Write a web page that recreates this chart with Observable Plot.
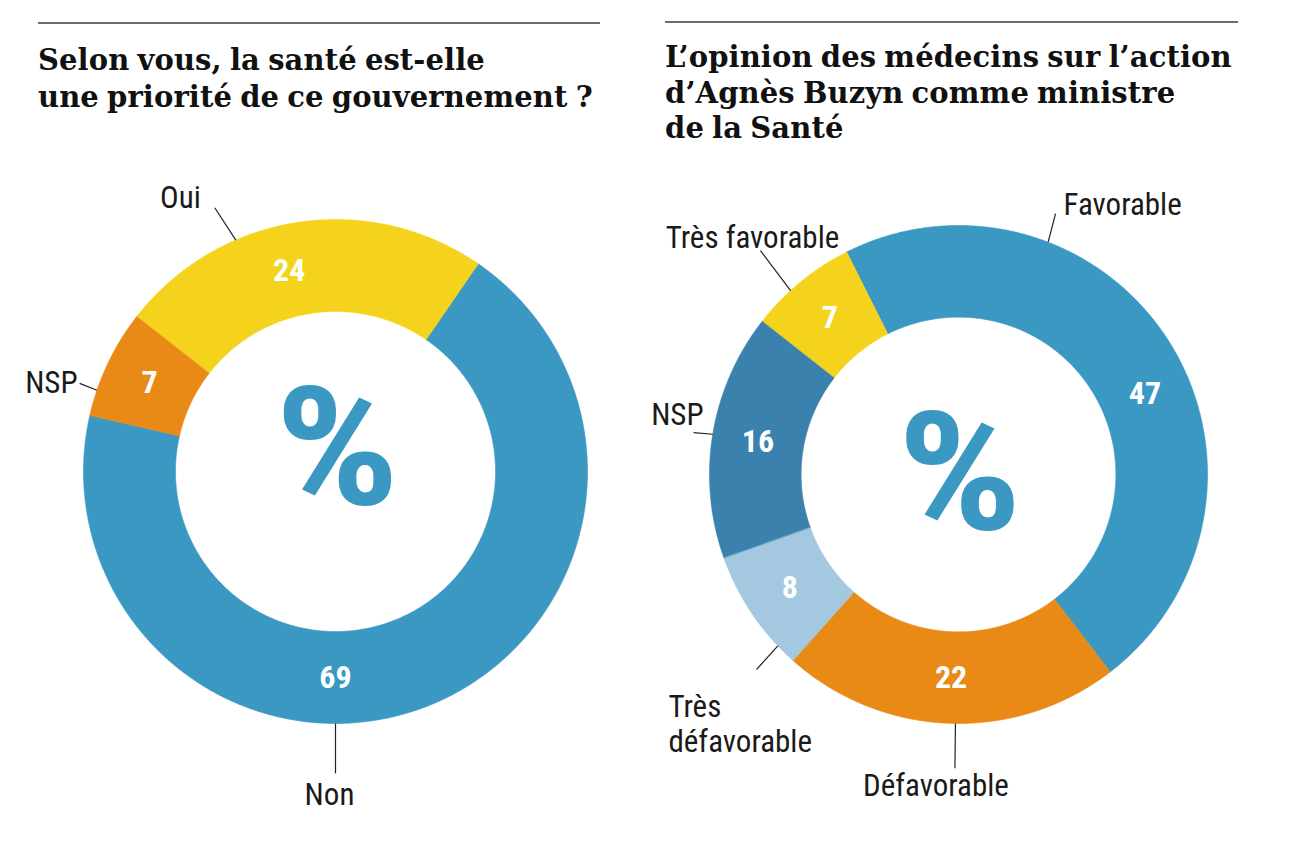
<!DOCTYPE html>
<html><head><meta charset="utf-8">
<script src="https://cdn.jsdelivr.net/npm/d3@7"></script>
<script src="https://cdn.jsdelivr.net/npm/@observablehq/plot@0.6"></script>
<style>
body{margin:0;background:#fff;width:1290px;height:864px;position:relative;overflow:hidden}
.rule{position:absolute;height:2px;background:#6e6e6e}
.title{position:absolute;font-family:"DejaVu Serif",serif;font-weight:700;font-size:29px;color:#111;white-space:nowrap;letter-spacing:0.1px;word-spacing:-2px}
.chart{position:absolute;top:150px}
</style></head>
<body>
<div class="rule" style="left:38px;top:22px;width:562px"></div>
<div class="rule" style="left:665px;top:21px;width:573px"></div>
<div class="title" style="left:38px;top:42px;line-height:37px">Selon vous, la santé est-elle<br>une priorité de ce gouvernement ?</div>
<div class="title" style="left:665px;top:40px;line-height:35.5px">L’opinion des médecins sur l’action<br>d’Agnès Buzyn comme ministre<br>de la Santé</div>
<div class="chart" id="c1" style="left:0px"></div>
<div class="chart" id="c2" style="left:645px"></div>
<script>
// ---- data ----
const priorityLabels = ["Non", "NSP", "Oui"];
const priorityValues = [69, 7, 24];
const opinionLabels = ["Favorable", "Défavorable", "Très défavorable", "NSP", "Très favorable"];
const opinionValues = [47, 22, 8, 16, 7];

// ---- styles ----
const BLUE = "#3a98c3", ORANGE = "#ea8a16", YELLOW = "#f5d31c", DARKBLUE = "#3a81ae", LIGHTBLUE = "#a3c8e0";
const priorityColors = [BLUE, ORANGE, YELLOW];
const opinionColors = [BLUE, ORANGE, LIGHTBLUE, DARKBLUE, YELLOW];
const LABEL_FONT = '"Roboto Condensed","Liberation Sans Narrow",Roboto,sans-serif';

// ---- layout (label placement: degrees clockwise from top / radius units / pixel offsets) ----
const priorityLayout = {
  "Non": {lead: [180, 1.0, 180, 1.198], off: [-6, 20], anchor: "middle", vAngle: 180},
  "NSP": {lead: [288.8, 1.0, 289, 1.074], off: [-2, -2], anchor: "end"},
  "Oui": {lead: [336.7, 1.0, 335.4, 1.151], off: [-14, -11], anchor: "end", vAngle: 347}
};
const opinionLayout = {
  "Favorable": {lead: [21.1, 1.0, 20.4, 1.118], off: [8, -10], anchor: "start", vAngle: 66.6},
  "Défavorable": {lead: [180.7, 1.0, 180.7, 1.18], off: [-19, 16], anchor: "middle"},
  "Très défavorable": {lead: [226.5, 1.0, 226, 1.128], off: [-88, 54], anchor: "start", text: "Très\ndéfavorable"},
  "NSP": {lead: [279.3, 1.0, 279, 1.077], off: [10, -19], anchor: "end"},
  "Très favorable": {lead: [317.6, 1.0, 318.5, 1.2], off: [-8, -14], anchor: "middle"}
};

const rad = a => a * Math.PI / 180;
const px = (a, r) => r * Math.sin(rad(a));
const py = (a, r) => r * Math.cos(rad(a));

function donut(el, labels, values, colors, layout, opts) {
  const {W, H, cx, cy, R, start, inner, pctDx, pctDy} = opts;
  const total = d3.sum(values);
  let acc = start;
  const segs = labels.map((k, i) => {
    const a0 = acc, a1 = acc + values[i] / total * 360; acc = a1;
    return {key: k, value: values[i], color: colors[i], a0, a1};
  });
  const poly = [];
  for (const s of segs) {
    const n = Math.max(2, Math.ceil((s.a1 - s.a0) / 0.5));
    for (let j = 0; j <= n; j++) { const a = s.a0 + (s.a1 - s.a0) * j / n; poly.push({key: s.key, color: s.color, x: px(a, 1), y: py(a, 1)}); }
    for (let j = n; j >= 0; j--) { const a = s.a0 + (s.a1 - s.a0) * j / n; poly.push({key: s.key, color: s.color, x: px(a, inner), y: py(a, inner)}); }
  }
  const mid = (inner + 1) / 2;
  const vals = segs.map(s => {
    const a = layout[s.key].vAngle ?? (s.a0 + s.a1) / 2;
    return {text: String(s.value), x: px(a, mid), y: py(a, mid)};
  });
  const leads = segs.map(s => {
    const L = layout[s.key].lead;
    return {x1: px(L[0], L[1]), y1: py(L[0], L[1]), x2: px(L[2], L[3]), y2: py(L[2], L[3])};
  });
  const labs = segs.map((s, i) => {
    const Lo = layout[s.key];
    return {text: Lo.text ?? s.key, anchor: Lo.anchor, x: leads[i].x2 + Lo.off[0] / R, y: leads[i].y2 - Lo.off[1] / R};
  });
  const textMarks = ["start", "middle", "end"].map(an =>
    Plot.text(labs.filter(d => d.anchor === an), {x: "x", y: "y", text: "text", textAnchor: an, fontSize: 31, lineHeight: 1.13, fill: "#1a1a1a", fontFamily: LABEL_FONT}));
  const chart = Plot.plot({
    width: W, height: H, margin: 0,
    x: {domain: [-cx / R, (W - cx) / R], axis: null},
    y: {domain: [-(H - cy) / R, cy / R], axis: null},
    color: {type: "identity"},
    style: {background: "transparent", overflow: "visible"},
    marks: [
      Plot.line(poly, {x: "x", y: "y", z: "key", fill: "color", stroke: "color", strokeWidth: 0.6, curve: "linear-closed"}),
      Plot.link(leads, {x1: "x1", y1: "y1", x2: "x2", y2: "y2", stroke: "#222", strokeWidth: 1.2}),
      Plot.text(vals, {x: "x", y: "y", text: "text", fill: "white", fontSize: 32, fontWeight: "bold", fontFamily: LABEL_FONT}),
      Plot.text(["%"], {x: () => pctDx / R, y: () => pctDy / R, text: d => d, fill: BLUE, fontSize: 166, fontWeight: "bold", fontFamily: LABEL_FONT, className: "pct"}),
      ...textMarks
    ]
  });
  // widen the condensed "%" glyph horizontally around its own anchor point
  const g = chart.querySelector("g.pct");
  if (g) {
    const X = chart.scale("x").apply(pctDx / R);
    const wrap = document.createElementNS("http://www.w3.org/2000/svg", "g");
    wrap.setAttribute("transform", `translate(${X},0) scale(1.18,1) translate(${-X},0)`);
    g.parentNode.insertBefore(wrap, g);
    wrap.appendChild(g);
  }
  document.getElementById(el).appendChild(chart);
}

donut("c1", priorityLabels, priorityValues, priorityColors, priorityLayout,
  {W: 645, H: 700, cx: 335, cy: 321, R: 252, start: 34.5, inner: 0.635, pctDx: 1.5, pctDy: 21});
donut("c2", opinionLabels, opinionValues, opinionColors, opinionLayout,
  {W: 645, H: 700, cx: 313, cy: 324, R: 249, start: -26.7, inner: 0.632, pctDx: 1, pctDy: -1});
</script>
</body></html>
